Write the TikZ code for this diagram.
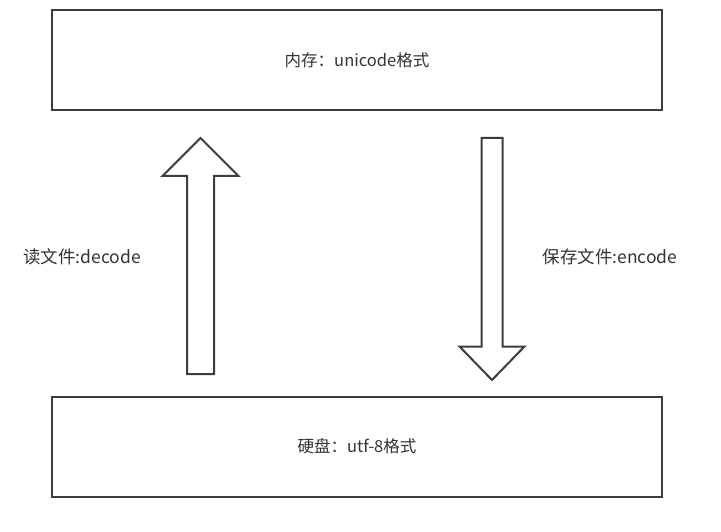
\documentclass[tikz,border=0pt]{standalone}
\usepackage{fontspec}
\setmainfont{Noto Sans CJK SC}
\begin{document}
\begin{tikzpicture}[x=1pt,y=-1pt,
  boxst/.style={draw=linegray,line width=2pt,minimum width=610pt,minimum height=100pt,inner sep=0pt,text=textgray,font=\fontsize{16.5}{19}\selectfont},
  arrowst/.style={draw=linegray,line width=2pt,fill=white,line join=miter},
  labelst/.style={text=textgray,font=\fontsize{17.5}{20}\selectfont,inner sep=0pt}]
\definecolor{linegray}{HTML}{3C3C3C}
\definecolor{textgray}{HTML}{333333}
\useasboundingbox (0,0) rectangle (721,532);
\node[boxst] (mem) at (357,60) {内存：unicode格式};
\node[boxst] (disk) at (357,446.5) {硬盘：utf-8格式};
% up arrow
\draw[arrowst] (187,374) -- (187,176) -- (162.5,176) -- (200.5,138) -- (238.5,176) -- (214,176) -- (214,374) -- cycle;
% down arrow
\draw[arrowst] (481.5,138) -- (481.5,346.5) -- (459.5,346.5) -- (492,380) -- (524.5,346.5) -- (502.5,346.5) -- (502.5,138) -- cycle;
\node[labelst] (dec) at (82,257) {读文件:decode};
\node[labelst] (enc) at (610,257) {保存文件:encode};
\end{tikzpicture}
\end{document}
